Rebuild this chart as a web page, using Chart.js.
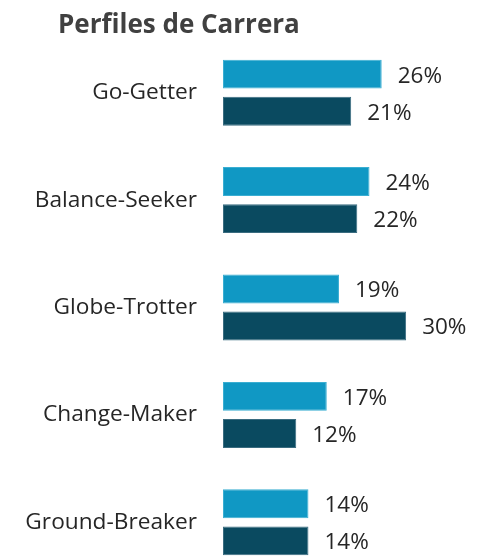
<!DOCTYPE html>
<html>
<head>
<meta charset="utf-8">
<script src="https://cdn.jsdelivr.net/npm/chart.js@4/dist/chart.umd.min.js"></script>
<style>
  html, body { margin: 0; padding: 0; background: #ffffff; overflow: hidden; }
  #wrap { position: relative; width: 488px; height: 576px; }
</style>
</head>
<body>
<div id="wrap"><canvas id="c"></canvas></div>
<script>
const titleText = "Perfiles de Carrera";
const categories = ["Go-Getter", "Balance-Seeker", "Globe-Trotter", "Change-Maker", "Ground-Breaker"];
const seriesA = [26, 24, 19, 17, 14];
const seriesB = [21, 22, 30, 12, 14];
const seriesNames = ["Serie 1", "Serie 2"];

const valueLabels = {
  id: 'valueLabels',
  afterDatasetsDraw(chart) {
    const ctx = chart.ctx;
    ctx.save();
    ctx.font = '22.5px "Open Sans"';
    ctx.fillStyle = '#262626';
    ctx.textAlign = 'left';
    ctx.textBaseline = 'middle';
    chart.data.datasets.forEach((ds, di) => {
      const meta = chart.getDatasetMeta(di);
      meta.data.forEach((bar, i) => {
        ctx.fillText(ds.data[i] + '%', bar.x + 16, bar.y + 2);
      });
    });
    ctx.restore();
  }
};

const leftTitle = {
  id: 'leftTitle',
  afterDraw(chart) {
    const ctx = chart.ctx;
    ctx.save();
    ctx.font = 'bold 26px "Open Sans"';
    ctx.fillStyle = '#404040';
    ctx.textAlign = 'left';
    ctx.textBaseline = 'alphabetic';
    ctx.fillText(titleText, 58, 33);
    ctx.restore();
  }
};

new Chart(document.getElementById('c'), {
  type: 'bar',
  data: {
    labels: categories,
    datasets: [
      { label: seriesNames[0], data: seriesA, backgroundColor: '#1098c4', borderColor: '#3aaed2', borderWidth: 1, borderSkipped: false },
      { label: seriesNames[1], data: seriesB, backgroundColor: '#0a4a60', borderColor: '#3a6c80', borderWidth: 1, borderSkipped: false }
    ]
  },
  options: {
    responsive: true,
    maintainAspectRatio: false,
    indexAxis: 'y',
    animation: false,
    categoryPercentage: 0.69,
    barPercentage: 0.78,
    layout: { padding: { left: 0, right: 19, top: 39, bottom: 0 } },
    plugins: {
      legend: { display: false },
      tooltip: { enabled: false },
      title: { display: false }
    },
    scales: {
      x: { display: false, min: 0, max: 40.3 },
      y: {
        grid: { display: false, drawTicks: false },
        border: { display: false },
        ticks: { color: '#262626', font: { family: '"Open Sans"', size: 22.7 }, padding: 26 },
        afterFit(scale) { scale.width = 223; scale.paddingTop = 0; scale.paddingBottom = 0; }
      }
    }
  },
  plugins: [valueLabels, leftTitle]
});
</script>
</body>
</html>
